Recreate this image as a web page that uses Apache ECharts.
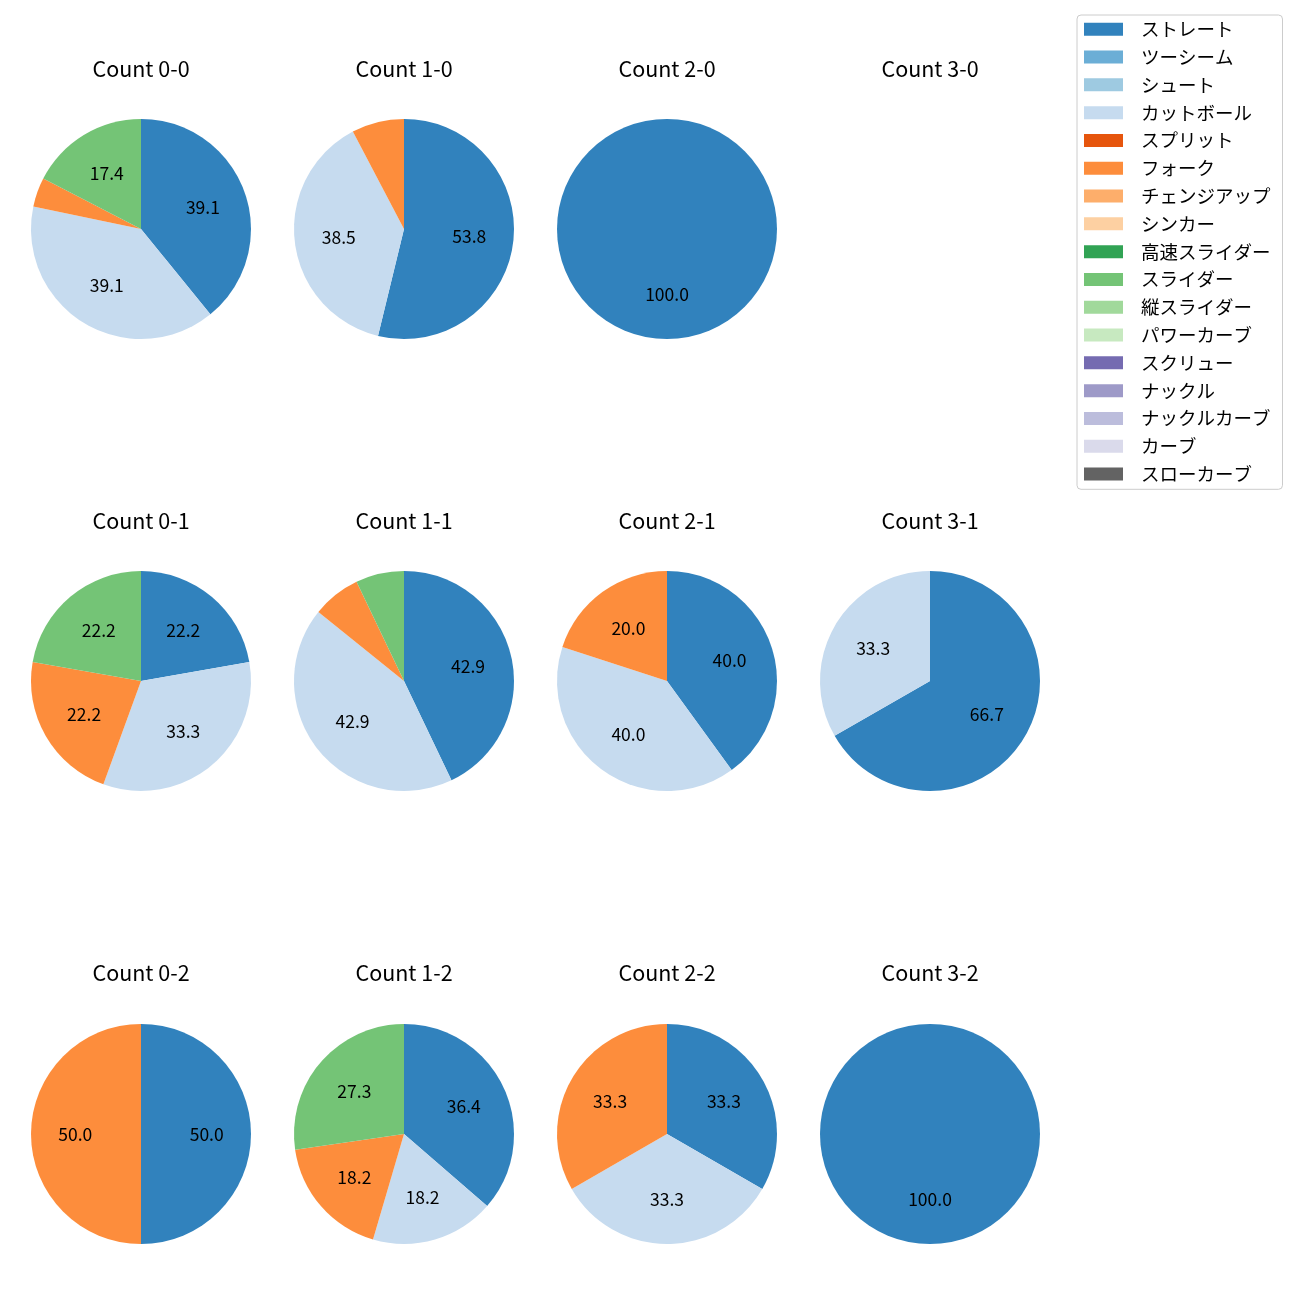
<!DOCTYPE html>
<html><head><meta charset="utf-8">
<script src="https://cdn.jsdelivr.net/npm/echarts@6/dist/echarts.min.js"></script>
<style>html,body{margin:0;padding:0;background:#fff}#c{width:1300px;height:1300px}</style>
</head><body><div id="c"></div>
<script>
const pitchTypes = ['ストレート','ツーシーム','シュート','カットボール','スプリット','フォーク','チェンジアップ','シンカー','高速スライダー','スライダー','縦スライダー','パワーカーブ','スクリュー','ナックル','ナックルカーブ','カーブ','スローカーブ'];
const pitchColors = ['#3182bd','#6baed6','#9ecae1','#c6dbef','#e6550d','#fd8d3c','#fdae6b','#fdd0a2','#31a354','#74c476','#a1d99b','#c7e9c0','#756bb1','#9e9ac8','#bcbddc','#dadaeb','#636363'];
const counts = ['0-0','1-0','2-0','3-0','0-1','1-1','2-1','3-1','0-2','1-2','2-2','3-2'];
// percentages per count, keyed by pitch type (drawn clockwise from top in legend order)
const count00 = {'ストレート':39.1,'カットボール':39.1,'フォーク':4.3,'スライダー':17.4};
const count10 = {'ストレート':53.8,'カットボール':38.5,'フォーク':7.7};
const count20 = {'ストレート':100.0};
const count30 = {};
const count01 = {'ストレート':22.2,'カットボール':33.3,'フォーク':22.2,'スライダー':22.2};
const count11 = {'ストレート':42.9,'カットボール':42.9,'フォーク':7.1,'スライダー':7.1};
const count21 = {'ストレート':40.0,'カットボール':40.0,'フォーク':20.0};
const count31 = {'ストレート':66.7,'カットボール':33.3};
const count02 = {'ストレート':50.0,'フォーク':50.0};
const count12 = {'ストレート':36.4,'カットボール':18.2,'フォーク':18.2,'スライダー':27.3};
const count22 = {'ストレート':33.3,'カットボール':33.3,'フォーク':33.3};
const count32 = {'ストレート':100.0};
const countData = [count00,count10,count20,count30,count01,count11,count21,count31,count02,count12,count22,count32];

const FONT = '"Noto Sans CJK JP", "Noto Sans", sans-serif';
const colX = [141, 404, 667, 930];
const rowY = [229, 681, 1134];
const titleY = [69, 521, 973];
const R = 110;

// legend carrier series first (off-screen), so legend icons take these colours
const series = [{
  type: 'pie', center: [-2000, -2000], radius: 1, animation: false, silent: true,
  label: {show: false}, labelLine: {show: false},
  data: pitchTypes.map((p, k) => ({name: p, value: 1, itemStyle: {color: pitchColors[k]}}))
}];
const graphics = [];
countData.forEach((d, i) => {
  const cx = colX[i % 4], cy = rowY[Math.floor(i / 4)];
  graphics.push({
    type: 'text', x: cx, y: titleY[Math.floor(i / 4)], silent: true,
    style: {text: 'Count ' + counts[i], align: 'center', verticalAlign: 'middle',
      font: 'normal 21.5px ' + FONT, fill: '#000'}
  });
  const names = pitchTypes.filter(p => d[p] !== undefined);
  if (!names.length) return;
  const data = names.map(p => ({name: p, value: d[p], itemStyle: {color: pitchColors[pitchTypes.indexOf(p)]}}));
  series.push({
    type: 'pie', center: [cx, cy], radius: [0, R], startAngle: 90, clockwise: true,
    animation: false, silent: true, data: data, z: 2,
    itemStyle: {borderWidth: 0},
    label: {show: false}, labelLine: {show: false}, emphasis: {disabled: true}
  });
  // transparent label layer: inside labels sit at about 0.6 R like the reference
  series.push({
    type: 'pie', center: [cx, cy], radius: [0, R * 1.14], startAngle: 90, clockwise: true,
    animation: false, silent: true, z: 3,
    data: names.map(p => ({name: p, value: d[p], itemStyle: {color: 'rgba(0,0,0,0)'}})),
    itemStyle: {borderWidth: 0},
    label: {
      position: 'inside', fontFamily: FONT, fontSize: 17.5, color: '#000',
      formatter: p => p.value >= 10 ? p.value.toFixed(1) : ''
    },
    labelLine: {show: false}, emphasis: {disabled: true}
  });
});

const chart = echarts.init(document.getElementById('c'), null, {renderer: 'canvas'});
chart.setOption({
  backgroundColor: '#fff',
  graphic: graphics,
  legend: {
    orient: 'vertical', left: 1077, top: 15,
    data: pitchTypes, icon: 'rect', itemWidth: 39, itemHeight: 13, itemGap: 9.3,
    padding: [5, 12, 6, 7], borderColor: '#cccccc', borderWidth: 1, borderRadius: 4,
    selectedMode: false,
    textStyle: {fontFamily: FONT, fontSize: 18.5, color: '#000', padding: [0, 0, 0, 13]}
  },
  series: series
});
</script></body></html>
